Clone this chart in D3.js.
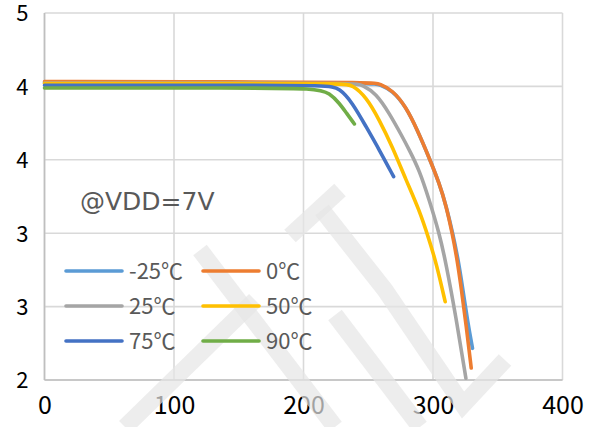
<!DOCTYPE html>
<html><head><meta charset="utf-8">
<script src="https://cdn.jsdelivr.net/npm/d3@7"></script>
<style>
html,body{margin:0;padding:0;background:#fff;}
svg{display:block;font-family:"Noto Sans CJK SC","Noto Sans",sans-serif;}
</style></head>
<body>
<svg id="chart" width="595" height="427"></svg>
<script>
// ---- data ----
const seriesNames = ["-25℃", "0℃", "25℃", "50℃", "75℃", "90℃"];
const seriesColors = ["#5B9BD5", "#ED7D31", "#A5A5A5", "#FFC000", "#4472C4", "#70AD47"];
const xTicks = [0, 100, 200, 300, 400];
const yTicks = [2, 2.6, 3.2, 3.8, 4.4, 5];
const annotation = "@VDD=7V";

const sM25 = [[0,4.430],[150,4.430],[254.7,4.426],[258.6,4.416],[268.6,4.368],[279.1,4.234],[287.9,4.044],[297.1,3.815],[304.8,3.610],[310.2,3.422],[315.2,3.202],[319.5,2.981],[322.9,2.752],[326.8,2.474],[330.5,2.259]];
const s0   = [[0,4.440],[150,4.438],[254.7,4.432],[258.6,4.420],[268.6,4.371],[279.1,4.234],[287.9,4.044],[297.1,3.815],[304.8,3.610],[310.2,3.422],[314.8,3.202],[318.7,2.981],[321.8,2.752],[325.6,2.450],[329.5,2.098]];
const s25  = [[0,4.428],[150,4.428],[240.1,4.426],[245.4,4.411],[256.0,4.344],[266.3,4.180],[276.3,3.989],[281.7,3.880],[289.4,3.717],[297.1,3.471],[304.8,3.202],[310.0,2.956],[317.7,2.517],[325.4,2.014]];
const s50  = [[0,4.424],[150,4.424],[231.6,4.422],[237.7,4.411],[248.3,4.316],[258.6,4.125],[268.6,3.907],[279.1,3.636],[289.4,3.390],[297.1,3.144],[302.5,2.956],[309.4,2.640]];
const s75  = [[0,4.410],[150,4.410],[218.5,4.408],[227.8,4.387],[237.9,4.264],[248.3,4.071],[258.6,3.880],[269.6,3.662]];
const s90  = [[0,4.387],[150,4.387],[210.8,4.385],[220.1,4.344],[227.8,4.262],[233.1,4.183],[239.3,4.093]];
const allSeries = [sM25, s0, s25, s50, s75, s90];

// ---- layout ----
const svg = d3.select("#chart");
const L = 44.5, R = 562.5, T = 13, B = 380;
const x = d3.scaleLinear().domain([0, 400]).range([L, R]);
const y = d3.scaleLinear().domain([2, 5]).range([B, T]);

// gridlines
const grid = svg.append("g");
grid.selectAll("line.h").data(yTicks).join("line")
  .attr("x1", L).attr("x2", R).attr("y1", d => y(d)).attr("y2", d => y(d))
  .attr("stroke", "#D9D9D9").attr("stroke-width", 1.6);
grid.selectAll("line.v").data(xTicks).join("line")
  .attr("y1", T).attr("y2", B).attr("x1", d => x(d)).attr("x2", d => x(d))
  .attr("stroke", "#D9D9D9").attr("stroke-width", 1.6);
svg.append("line").attr("x1", L).attr("x2", L).attr("y1", T).attr("y2", B).attr("stroke", "#BFBFBF").attr("stroke-width", 1.6);
svg.append("line").attr("x1", L).attr("x2", R).attr("y1", B).attr("y2", B).attr("stroke", "#BFBFBF").attr("stroke-width", 1.6);

// axes labels via d3 axes
const fmt = d3.format(".0f");
const yAxis = svg.append("g").attr("transform", `translate(${L},0)`)
  .call(d3.axisLeft(y).tickValues(yTicks).tickFormat(fmt).tickSize(0).tickPadding(16));
yAxis.select(".domain").remove();
yAxis.selectAll("text").attr("font-size", 22).attr("fill", "#000").attr("dy", "0.36em")
  .attr("font-family", '"Noto Sans CJK SC",sans-serif');
const xAxis = svg.append("g").attr("transform", `translate(0,${B})`)
  .call(d3.axisBottom(x).tickValues(xTicks).tickFormat(fmt).tickSize(0).tickPadding(16));
xAxis.select(".domain").remove();
xAxis.selectAll("text").attr("font-size", 25).attr("fill", "#000")
  .attr("font-family", '"Noto Sans CJK SC",sans-serif');

// watermark (approximate)
const wm = svg.append("g").attr("fill", "none").attr("stroke", "#E6E6E6").attr("stroke-opacity", 0.7).attr("stroke-linecap", "butt");
const wmPaths = [
  [[290,236],[340,190]],
  [[322,210],[385,290],[463,405],[505,360]],
  [[200,250],[335,427]],
  [[125,427],[255,300]],
  [[335,315],[420,427]]
];
wm.selectAll("path").data(wmPaths).join("path")
  .attr("d", d => d3.line()(d)).attr("stroke-width", 17);

// lines
const line = d3.line().x(d => x(d[0])).y(d => y(d[1])).curve(d3.curveBasis);
svg.append("g").selectAll("path").data(allSeries).join("path")
  .attr("d", line).attr("fill", "none")
  .attr("stroke", (d, i) => seriesColors[i]).attr("stroke-width", 3.6)
  .attr("stroke-linecap", "round").attr("stroke-linejoin", "round");

// annotation
svg.append("text").attr("x", 80).attr("y", 210).attr("font-size", 25).attr("fill", "#595959")
  .attr("font-family", '"DejaVu Sans",sans-serif')
  .text(annotation);

// legend
const legend = svg.append("g");
const legItems = seriesNames.map((n, i) => ({n, c: seriesColors[i], col: i % 2, row: Math.floor(i / 2)}));
const colX = [66, 203], rowY = [271, 306, 341];
const lg = legend.selectAll("g").data(legItems).join("g")
  .attr("transform", d => `translate(${colX[d.col]},${rowY[d.row]})`);
lg.append("line").attr("x1", 0).attr("x2", 56).attr("y1", 0).attr("y2", 0)
  .attr("stroke", d => d.c).attr("stroke-width", 3.6).attr("stroke-linecap", "round");
lg.append("text").attr("x", 63).attr("y", 8).attr("font-size", 22).attr("fill", "#595959").text(d => d.n);
</script>
</body></html>
